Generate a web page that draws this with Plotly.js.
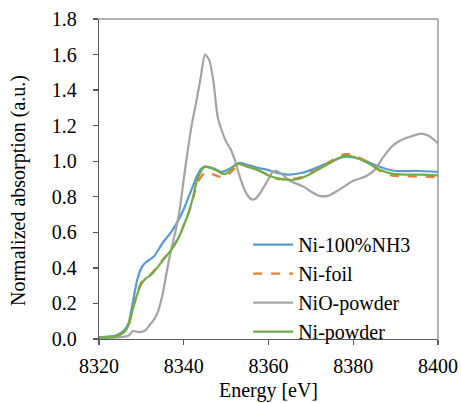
<!DOCTYPE html>
<html>
<head>
<meta charset="utf-8">
<script src="https://cdn.plot.ly/plotly-3.0.1.min.js"></script>
<style>html,body{margin:0;padding:0;background:#fff;}#chart{width:461px;height:403px;}</style>
</head>
<body>
<div id="chart"></div>
<script>
// Ni-100%NH3
const energyNH3 = [8320,8324,8326,8327,8328,8329,8330,8331,8333,8335,8337,8339,8340,8342,8343,8344,8345,8347,8349,8351,8353,8355,8358,8360,8362,8365,8368,8371,8374,8377,8379,8382,8385,8388,8390,8395,8400];
const absNH3 = [0.01,0.02,0.05,0.09,0.21,0.33,0.40,0.43,0.465,0.54,0.60,0.68,0.73,0.85,0.91,0.955,0.97,0.96,0.94,0.96,0.99,0.98,0.96,0.95,0.935,0.925,0.935,0.96,0.99,1.02,1.025,1.01,0.98,0.955,0.945,0.945,0.94];

// Ni-foil
const energyFoil = [8320,8324,8326,8327,8328,8329,8330,8331,8332,8333,8335,8337,8339,8340,8341,8342,8343,8344,8345,8346,8347,8349,8350,8352,8353,8355,8358,8360,8362,8365,8367,8370,8373,8376,8378,8380,8383,8386,8389,8392,8396,8400];
const absFoil = [0.005,0.015,0.04,0.08,0.17,0.26,0.32,0.345,0.36,0.385,0.445,0.50,0.58,0.64,0.70,0.77,0.86,0.91,0.935,0.935,0.925,0.91,0.915,0.96,0.985,0.97,0.945,0.92,0.90,0.90,0.905,0.935,0.975,1.02,1.04,1.035,1.0,0.95,0.92,0.915,0.915,0.91];

// NiO-powder
const energyNiO = [8320,8325,8327,8328,8329,8330,8331,8332,8333,8334,8335,8336,8337,8338,8339,8340,8341,8342,8343,8344,8345,8346,8347,8348,8349,8350,8351,8352,8353,8354,8355,8356,8357,8358,8360,8361,8362,8363,8365,8368,8370,8372,8374,8376,8378,8380,8383,8385,8387,8389,8391,8393,8395,8396,8398,8400];
const absNiO = [0.005,0.01,0.02,0.045,0.04,0.04,0.05,0.08,0.11,0.16,0.25,0.38,0.50,0.60,0.72,0.90,1.07,1.22,1.34,1.47,1.60,1.57,1.45,1.25,1.17,1.11,1.07,1.01,0.93,0.86,0.81,0.785,0.79,0.82,0.90,0.94,0.945,0.93,0.89,0.86,0.83,0.805,0.805,0.83,0.86,0.89,0.915,0.95,1.02,1.08,1.115,1.135,1.15,1.155,1.14,1.10];

// Ni-powder
const energyPow = [8320,8324,8326,8327,8328,8329,8330,8331,8332,8333,8335,8337,8339,8340,8341,8342,8343,8344,8345,8346,8348,8349,8350,8351,8352,8353,8355,8358,8360,8362,8365,8367,8370,8373,8376,8378,8380,8383,8386,8389,8392,8396,8400];
const absPow = [0.005,0.015,0.04,0.08,0.17,0.25,0.31,0.34,0.355,0.38,0.44,0.50,0.58,0.64,0.70,0.78,0.88,0.94,0.97,0.965,0.945,0.93,0.93,0.95,0.975,0.985,0.97,0.945,0.92,0.905,0.895,0.90,0.93,0.97,1.01,1.03,1.025,0.995,0.955,0.93,0.925,0.925,0.92];

const seriesNames = ['Ni-100%NH3','Ni-foil','NiO-powder','Ni-powder'];
const xTicks = [8320,8340,8360,8380,8400];
const xTitle = 'Energy [eV]';
const yTitle = 'Normalized absorption (a.u.)';

const fontFam = 'Liberation Serif, Times New Roman, serif';

const traces = [
  {x: energyNH3, y: absNH3, name: seriesNames[0], mode: 'lines', line: {color: '#5B9BD5', width: 2.25, shape: 'spline', smoothing: 0.6}},
  {x: energyFoil, y: absFoil, name: seriesNames[1], mode: 'lines', line: {color: '#ED7D31', width: 2.25, dash: 'dash', shape: 'spline', smoothing: 0.6}},
  {x: energyNiO, y: absNiO, name: seriesNames[2], mode: 'lines', line: {color: '#A5A5A5', width: 2.25, shape: 'spline', smoothing: 0.6}},
  {x: energyPow, y: absPow, name: seriesNames[3], mode: 'lines', line: {color: '#70AD47', width: 2.25, shape: 'spline', smoothing: 0.6}}
];

const layout = {
  width: 461, height: 403,
  margin: {l: 99, r: 23, t: 19, b: 64},
  paper_bgcolor: '#fff', plot_bgcolor: '#fff',
  font: {family: fontFam, size: 20, color: '#000'},
  showlegend: true,
  legend: {x: 0.44, y: 0.356, xanchor: 'left', yanchor: 'top', bgcolor: 'rgba(0,0,0,0)', font: {family: fontFam, size: 20, color: '#000'}, tracegroupgap: 0, itemwidth: 40},
  xaxis: {
    range: [8320, 8400], tickvals: xTicks, ticktext: xTicks.map(String),
    showgrid: false, zeroline: false, showline: true, linecolor: '#595959', linewidth: 1.3,
    ticks: 'outside', ticklen: 5, tickcolor: '#595959', tickwidth: 1.3,
    ticklabelstandoff: 4,
    tickfont: {family: fontFam, size: 20, color: '#000'}
  },
  yaxis: {
    range: [0, 1.8], dtick: 0.2, tickformat: '.1f',
    showgrid: false, zeroline: false, showline: true, linecolor: '#595959', linewidth: 1.3,
    ticks: 'outside', ticklen: 5, tickcolor: '#595959', tickwidth: 1.3,
    ticklabelstandoff: 12,
    tickfont: {family: fontFam, size: 20, color: '#000'}
  },
  annotations: [
    {text: xTitle, xref: 'paper', yref: 'paper', x: 0.5, y: 0, xanchor: 'center', yanchor: 'middle', yshift: -51, showarrow: false, font: {family: fontFam, size: 20, color: '#000'}},
    {text: yTitle, xref: 'paper', yref: 'paper', x: 0, y: 0.4625, xanchor: 'center', yanchor: 'middle', xshift: -81, textangle: -90, showarrow: false, font: {family: fontFam, size: 20, color: '#000'}}
  ],
  shapes: [
    {type: 'line', xref: 'paper', yref: 'paper', x0: 0, x1: 1, y0: 1, y1: 1, line: {color: '#999999', width: 1.3}},
    {type: 'line', xref: 'paper', yref: 'paper', x0: 1, x1: 1, y0: 0, y1: 1, line: {color: '#8c8c8c', width: 1.3}}
  ]
};

Plotly.newPlot('chart', traces, layout, {displayModeBar: false, staticPlot: true});
</script>
</body>
</html>
